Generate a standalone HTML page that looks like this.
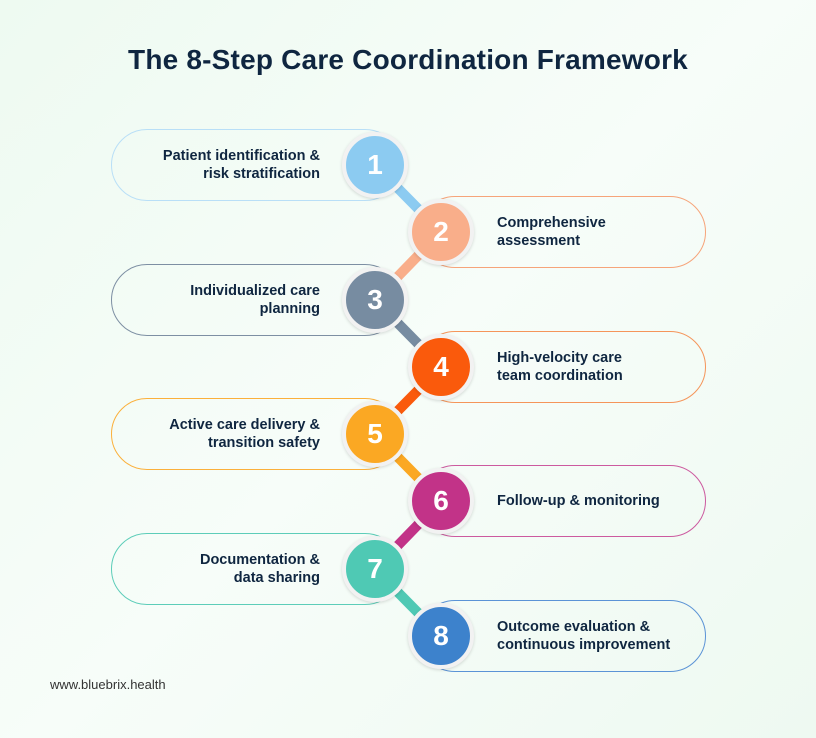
<!DOCTYPE html>
<html><head><meta charset="utf-8"><style>
body{margin:0;width:816px;height:738px;overflow:hidden;background:linear-gradient(135deg,#eefaf1 0%,#f7fdf9 50%,#eef9f1 100%);font-family:"Liberation Sans",sans-serif;position:relative;color:#0f2640}
.t{position:absolute;top:44px;left:0;width:816px;text-align:center;font-size:28px;font-weight:bold;letter-spacing:0.2px}
.p{position:absolute;height:72px;border:1.5px solid;border-radius:37px;box-sizing:border-box;display:flex;align-items:center;font-size:14.5px;font-weight:bold;line-height:18px}
.l{left:111px;width:290px;justify-content:flex-end;padding-right:80px;text-align:right}
.r{left:419px;width:287px;padding-left:77px}
.c{position:absolute;width:66px;height:66px;border-radius:50%;border:4px solid #f2f2f2;box-sizing:border-box;box-shadow:0 1px 3px rgba(0,0,0,.15);color:#fff;font-weight:bold;font-size:28px;display:flex;align-items:center;justify-content:center;font-family:"Liberation Sans Narrow","Liberation Sans",sans-serif}
.f{position:absolute;left:50px;top:677px;font-size:13px;color:#333}
</style></head><body>
<div class="t">The 8-Step Care Coordination Framework</div>
<svg width="816" height="738" style="position:absolute;left:0;top:0">
<g stroke-width="10" stroke-linecap="round">
<line x1="375" y1="165" x2="441" y2="232" stroke="#8ccbf1"/>
<line x1="441" y1="232" x2="375" y2="300" stroke="#f9ae8a"/>
<line x1="375" y1="300" x2="441" y2="367" stroke="#778ca1"/>
<line x1="441" y1="367" x2="375" y2="434" stroke="#fa5a0c"/>
<line x1="375" y1="434" x2="441" y2="501" stroke="#fba823"/>
<line x1="441" y1="501" x2="375" y2="569" stroke="#c23388"/>
<line x1="375" y1="569" x2="441" y2="636" stroke="#4fc9b4"/>
</g></svg>
<div class="p l" style="top:129px;border-color:#b9dff7">Patient identification &amp;<br>risk stratification</div>
<div class="p r" style="top:196px;border-color:#f6a47a">Comprehensive<br>assessment</div>
<div class="p l" style="top:264px;border-color:#7d8fa3">Individualized care<br>planning</div>
<div class="p r" style="top:331px;border-color:#f5955a">High-velocity care<br>team coordination</div>
<div class="p l" style="top:398px;border-color:#fbb03b">Active care delivery &amp;<br>transition safety</div>
<div class="p r" style="top:465px;border-color:#cc5a9f">Follow-up &amp; monitoring</div>
<div class="p l" style="top:533px;border-color:#5dcdb9">Documentation &amp;<br>data sharing</div>
<div class="p r" style="top:600px;border-color:#5b93d6">Outcome evaluation &amp;<br>continuous improvement</div>
<div class="c" style="left:342px;top:132px;background:#8ccbf1">1</div>
<div class="c" style="left:408px;top:199px;background:#f9ae8a">2</div>
<div class="c" style="left:342px;top:267px;background:#778ca1">3</div>
<div class="c" style="left:408px;top:334px;background:#fa5a0c">4</div>
<div class="c" style="left:342px;top:401px;background:#fba823">5</div>
<div class="c" style="left:408px;top:468px;background:#c23388">6</div>
<div class="c" style="left:342px;top:536px;background:#4fc9b4">7</div>
<div class="c" style="left:408px;top:603px;background:#3d82cc">8</div>
<div class="f">www.bluebrix.health</div>
</body></html>
